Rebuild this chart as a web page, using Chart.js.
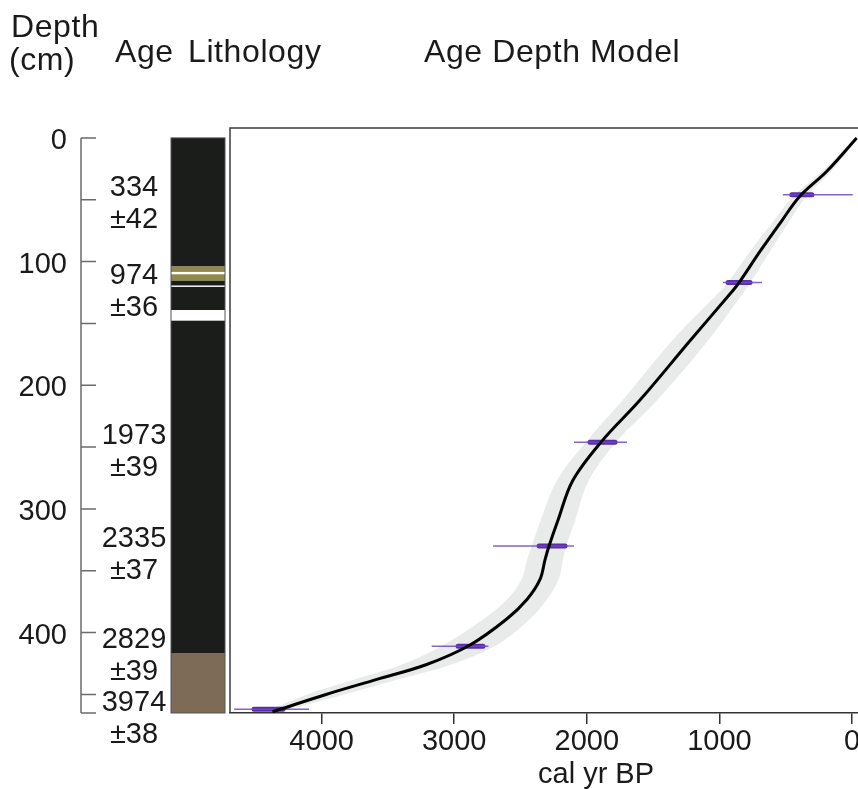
<!DOCTYPE html>
<html>
<head>
<meta charset="utf-8">
<script src="https://cdn.jsdelivr.net/npm/chart.js@4.4.1/dist/chart.umd.min.js"></script>
<style>
  html, body { margin: 0; padding: 0; background: #fff; }
  canvas { display: block; }
</style>
</head>
<body>
<canvas id="ageDepthChart" width="858" height="789"></canvas>
<script>
// age-depth model: depth (cm) against age (cal yr BP)
var modelDepth  = [0, 27, 47, 67, 91, 117, 123, 164, 212, 245, 277, 309, 330, 341, 357, 373, 389, 410, 426, 438, 450, 462, 464];
var modelAge    = [-35, 190, 392, 530, 689, 852, 895, 1222, 1599, 1885, 2106, 2217, 2285, 2315, 2353, 2450, 2604, 2881, 3213, 3590, 3967, 4314, 4370];
// half width of the grey envelope, years
var modelSpread = [10, 35, 50, 60, 75, 85, 90, 135, 130, 115, 120, 130, 130, 135, 140, 150, 175, 200, 185, 165, 140, 70, 55];

// calibrated dates
var dateDepth   = [46, 117, 246, 330, 411, 462];
var dateMinAge  = [-5, 679, 1697, 2097, 2742, 4095];
var dateMaxAge  = [522, 973, 2097, 2707, 3170, 4660];
var dateCoreMin = [302, 769, 1787, 2164, 2783, 4291];
var dateCoreMax = [454, 935, 1976, 2360, 2971, 4510];
var ageLabel    = ['334', '974', '1973', '2335', '2829', '3974'];
var ageError    = ['42', '36', '39', '37', '39', '38'];

// lithology units (cm)
var lithoTop  = [0, 104, 108.4, 110.3, 115.5, 119.5, 120.5, 139.2, 147.8, 417];
var lithoBase = [104, 108.4, 110.3, 115.5, 119.5, 120.5, 139.2, 147.8, 417, 465];
var lithoUnit = ['peat', 'olive', 'void', 'olive', 'peat', 'void', 'peat', 'void', 'peat', 'silt'];

var depthTicks = [0, 50, 100, 150, 200, 250, 300, 350, 400, 450, 465];
var depthTickLabels = [0, 100, 200, 300, 400];
var ageTicks = [4000, 3000, 2000, 1000, 0];

var lithoColors = { peat: '#1b1d1b', olive: '#8f8a4c', void: '#ffffff', silt: '#7d6b57' };
var FONT = '"Liberation Sans", Arial, sans-serif';

function pairs(xs, ys) {
    return xs.map(function (x, i) { return { x: x, y: ys[i] }; });
}

function barPoints(lo, hi) {
    var pts = [];
    dateDepth.forEach(function (d, i) {
        pts.push({ x: lo[i], y: d }, { x: hi[i], y: d }, { x: null, y: null });
    });
    return pts;
}

var sidePanels = {
    id: 'sidePanels',
    afterDraw: function (chart) {
        var ctx = chart.ctx, ys = chart.scales.y, area = chart.chartArea;
        ctx.save();

        // plot frame (top + left)
        ctx.strokeStyle = '#3c3c3c';
        ctx.lineWidth = 1.5;
        ctx.beginPath();
        ctx.moveTo(area.left, area.bottom);
        ctx.lineTo(area.left, area.top);
        ctx.lineTo(area.right, area.top);
        ctx.stroke();

        // depth axis
        var axX = 81;
        ctx.strokeStyle = '#6b6b6b';
        ctx.beginPath();
        ctx.moveTo(axX, ys.getPixelForValue(0));
        ctx.lineTo(axX, ys.getPixelForValue(465));
        depthTicks.forEach(function (d) {
            var py = ys.getPixelForValue(d);
            ctx.moveTo(axX, py);
            ctx.lineTo(96, py);
        });
        ctx.stroke();

        ctx.fillStyle = '#1a1a1a';
        ctx.font = '29px ' + FONT;
        ctx.textAlign = 'right';
        ctx.textBaseline = 'alphabetic';
        depthTickLabels.forEach(function (d) {
            ctx.fillText(String(d), 67, ys.getPixelForValue(d) + 11);
        });

        // lithology column
        lithoTop.forEach(function (top, i) {
            var y0 = ys.getPixelForValue(top), y1 = ys.getPixelForValue(lithoBase[i]);
            ctx.fillStyle = lithoColors[lithoUnit[i]];
            ctx.fillRect(171, y0, 54, y1 - y0);
        });
        ctx.strokeStyle = '#555';
        ctx.lineWidth = 1;
        ctx.strokeRect(171, ys.getPixelForValue(0), 54, ys.getPixelForValue(465) - ys.getPixelForValue(0));

        // age labels
        ctx.fillStyle = '#1a1a1a';
        ctx.textAlign = 'center';
        dateDepth.forEach(function (d, i) {
            var cy = ys.getPixelForValue(d) + 7;
            ctx.fillText(ageLabel[i], 134, cy - 16 + 10.4);
            ctx.fillText('\u00b1' + ageError[i], 134, cy + 16 + 10.4);
        });

        // x axis title
        ctx.textAlign = 'left';
        ctx.fillText('cal yr BP', 538, 783);

        // headers
        ctx.font = '32px ' + FONT;
        ctx.letterSpacing = '0.6px';
        ctx.fillText('Depth', 11, 37);
        ctx.fillText('(cm)', 9, 70);
        ctx.fillText('Age', 115, 62);
        ctx.fillText('Lithology', 188, 62);
        ctx.fillText('Age Depth Model', 424, 62);
        ctx.letterSpacing = '0px';
        ctx.restore();
    }
};

var ctx = document.getElementById('ageDepthChart').getContext('2d');
var ageDepthChart = new Chart(ctx, {
    type: 'scatter',
    data: {
        datasets: [{
            label: 'range young',
            data: pairs(modelAge.map(function (a, i) { return a - modelSpread[i]; }), modelDepth),
            showLine: true,
            tension: 0.35,
            pointRadius: 0,
            borderWidth: 1,
            borderColor: 'rgba(0,0,0,0)',
            backgroundColor: '#e9eaea',
            fill: '+1'
        }, {
            label: 'range old',
            data: pairs(modelAge.map(function (a, i) { return a + modelSpread[i]; }), modelDepth),
            showLine: true,
            tension: 0.35,
            pointRadius: 0,
            borderWidth: 1,
            borderColor: 'rgba(0,0,0,0)',
            fill: false
        }, {
            label: 'model',
            data: pairs(modelAge, modelDepth),
            showLine: true,
            tension: 0.35,
            pointRadius: 0,
            borderWidth: 3,
            borderColor: '#000000'
        }, {
            label: 'date range',
            data: barPoints(dateMinAge, dateMaxAge),
            showLine: true,
            pointRadius: 0,
            borderWidth: 1.5,
            borderColor: 'rgba(112,72,200,0.85)'
        }, {
            label: 'date core',
            data: barPoints(dateCoreMin, dateCoreMax),
            showLine: true,
            pointRadius: 0,
            borderWidth: 5,
            borderCapStyle: 'round',
            borderColor: '#5a2ea6'
        }]
    },
    options: {
        responsive: false,
        animation: false,
        layout: { padding: { left: 230, top: 128, right: 0, bottom: 0 } },
        plugins: {
            legend: { display: false },
            tooltip: { enabled: false },
            filler: { drawTime: 'beforeDatasetsDraw' }
        },
        scales: {
            x: {
                type: 'linear',
                reverse: true,
                min: -45,
                max: 4691,
                afterBuildTicks: function (s) {
                    s.ticks = ageTicks.map(function (v) { return { value: v }; });
                },
                afterFit: function (s) {
                    s.height = 76;
                    s.paddingLeft = 0;
                    s.paddingRight = 0;
                },
                grid: { drawOnChartArea: false, drawTicks: true, tickLength: 11, color: '#333', lineWidth: 1.5 },
                border: { display: true, color: '#333', width: 1.5 },
                ticks: {
                    font: { family: FONT, size: 29 },
                    color: '#1a1a1a',
                    padding: 1,
                    maxRotation: 0,
                    autoSkip: false,
                    callback: function (v) { return String(v); }
                }
            },
            y: {
                type: 'linear',
                display: false,
                reverse: true,
                min: -8,
                max: 465
            }
        }
    },
    plugins: [sidePanels]
});
</script>
</body>
</html>
